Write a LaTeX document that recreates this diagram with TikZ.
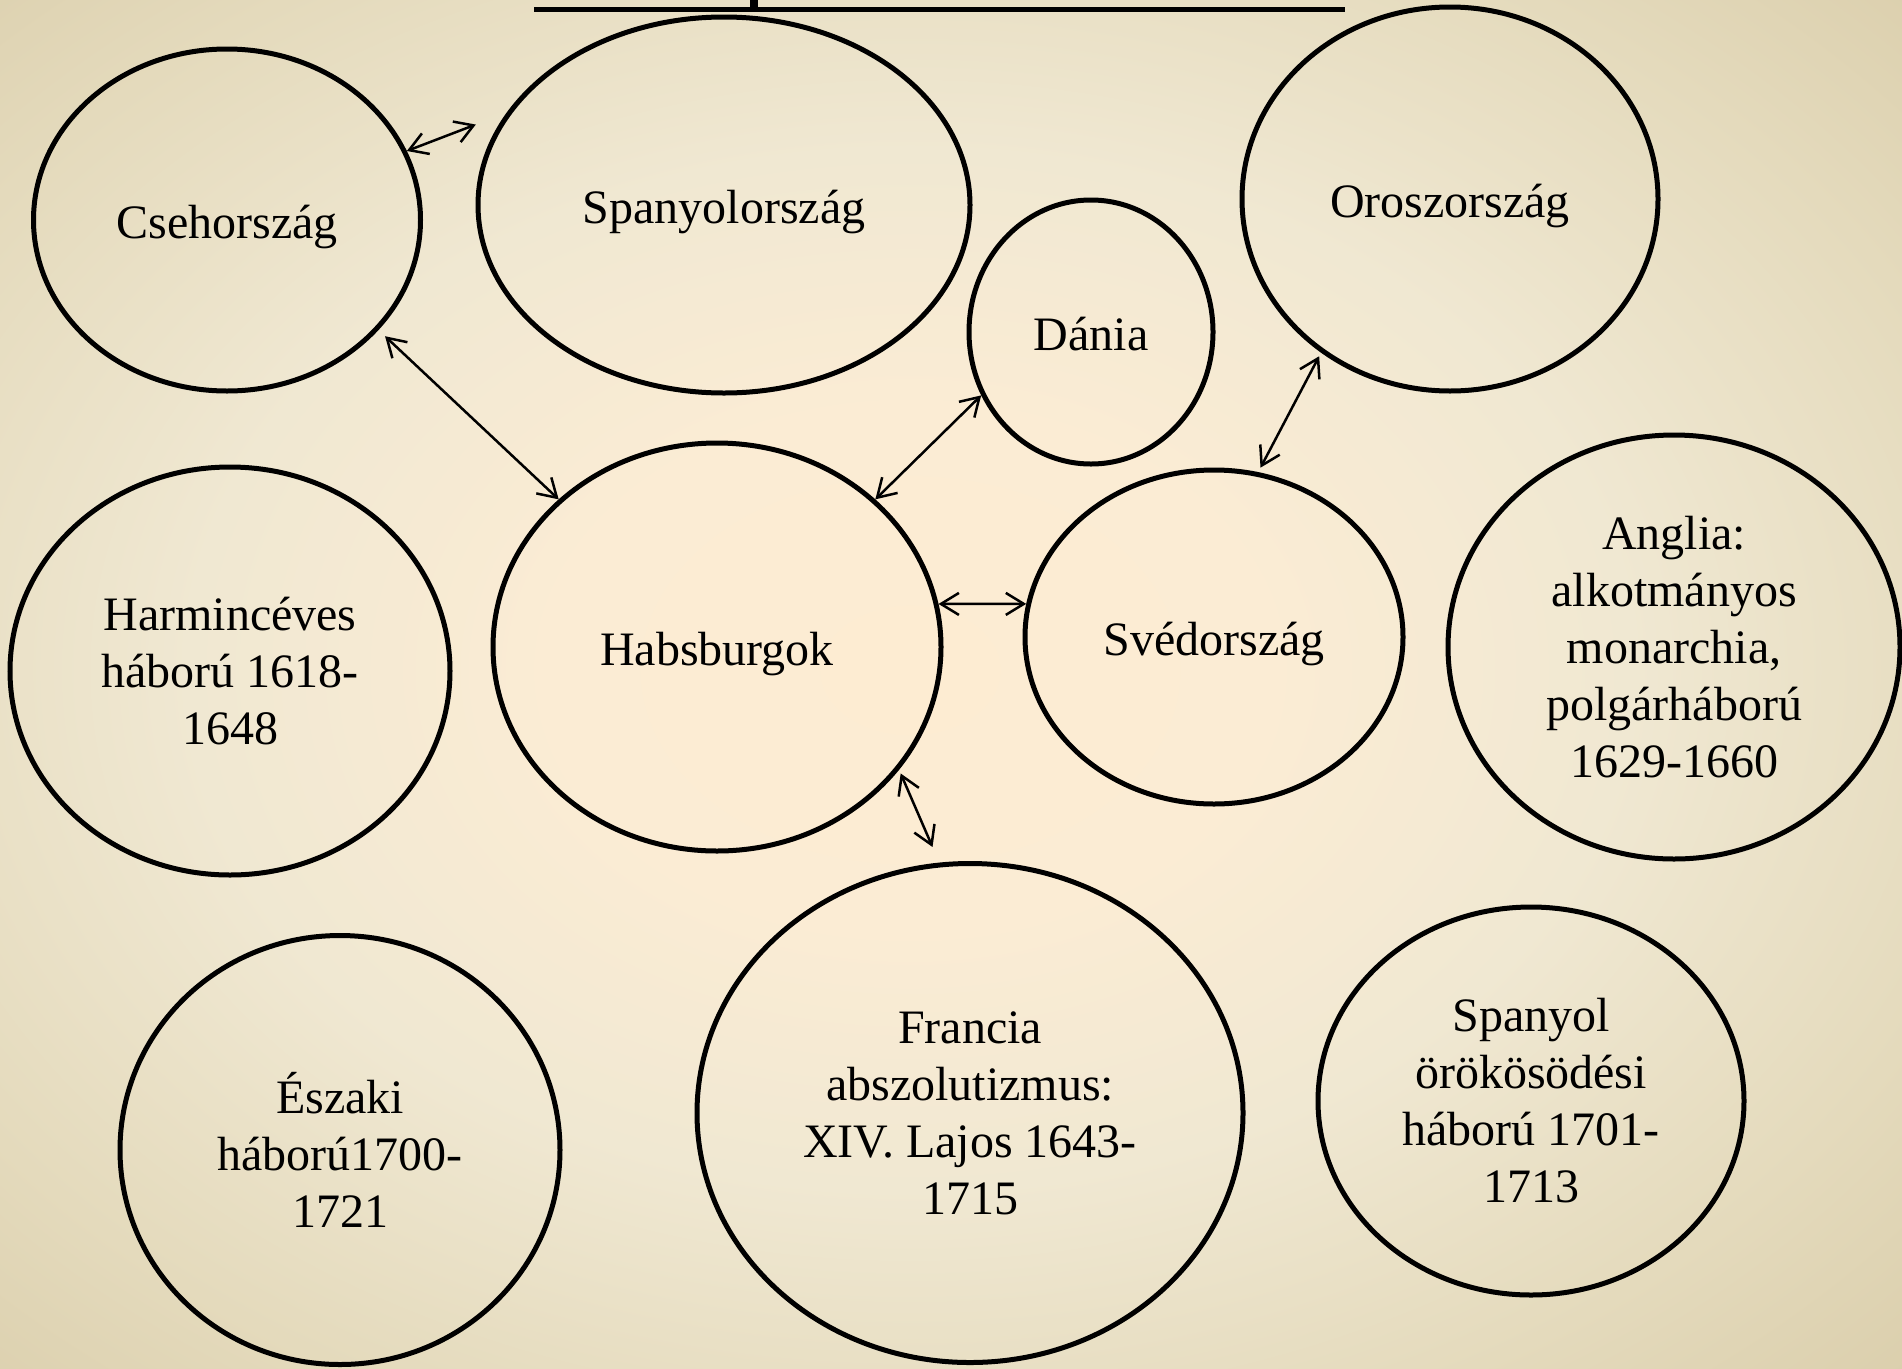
\documentclass[tikz,border=0pt]{standalone}
\usepackage{fontspec}
\setmainfont{Liberation Serif}
\usetikzlibrary{shapes.geometric,arrows.meta}
\definecolor{bgA}{RGB}{253,236,210}
\definecolor{bgB}{RGB}{251,236,212}
\definecolor{bgC}{RGB}{240,232,210}
\definecolor{bgD}{RGB}{228,218,188}
\definecolor{bgE}{RGB}{215,202,166}
\definecolor{bgF}{RGB}{207,192,154}
\pgfdeclareradialshading{bgshade}{\pgfpoint{0bp}{0bp}}{color(0bp)=(bgA); color(9bp)=(bgB); color(18bp)=(bgC); color(28bp)=(bgD); color(38bp)=(bgE); color(50bp)=(bgF); color(90bp)=(bgF)}
\tikzset{
  ell/.style={ellipse, draw=black, line width=5pt, inner sep=0pt, align=center,
    font=\fontsize{48}{57}\selectfont, text=black},
  one/.style={text height=36pt, text depth=0pt},
  arr/.style={line width=2.5pt,
    {Straight Barb[length=18pt,width=22pt]}-{Straight Barb[length=18pt,width=22pt]}}
}
\begin{document}
\begin{tikzpicture}[x=1pt,y=-1pt]
\useasboundingbox (0,0) rectangle (1902,1368);
\begin{scope}
\clip (0,0) rectangle (1902,1368);
\shade[shading=bgshade] (-90,-50) rectangle (1910,1390);
\end{scope}
% title underline remnant
\fill[black] (534,7) rectangle (1345,12);
\fill[black] (750,0) rectangle (758,10);
% nodes
\node[ell, one, minimum width=387pt, minimum height=342pt] (cseh) at (227,220) {Csehország};
\node[ell, one, minimum width=492pt, minimum height=376pt] (spany) at (724,205) {Spanyolország};
\node[ell, one, minimum width=244pt, minimum height=264pt] (dania) at (1091,332) {Dánia};
\node[ell, one, minimum width=416pt, minimum height=384pt] (orosz) at (1450,199) {Oroszország};
\node[ell, one, minimum width=448pt, minimum height=408pt] (habs) at (717,647) {Habsburgok};
\node[ell, one, minimum width=378pt, minimum height=334pt] (sved) at (1214,637) {Svédország};
\node[ell, minimum width=440pt, minimum height=408pt] (harm) at (230,671) {Harmincéves\\háború 1618-\\1648};
\node[ell, minimum width=452pt, minimum height=424pt] (angl) at (1674,647) {Anglia:\\alkotmányos\\monarchia,\\polgárháború\\1629-1660};
\node[ell, minimum width=440pt, minimum height=429pt] (eszak) at (340,1150) {Északi\\háború1700-\\1721};
\node[ell, minimum width=546pt, minimum height=499pt] (franc) at (970,1113) {Francia\\abszolutizmus:\\XIV. Lajos 1643-\\1715};
\node[ell, minimum width=426pt, minimum height=388pt] (spor) at (1531,1101) {Spanyol\\örökösödési\\háború 1701-\\1713};
% connectors
\draw[arr, shorten >=33pt] (cseh.21) -- (spany.157);
\draw[arr, shorten <=9pt] (cseh.-36) -- (habs.137);
\draw[arr] (habs.43) -- (dania.-150);
\draw[arr] (habs.11) -- (sved.170);
\draw[arr, shorten <=5pt, shorten >=4pt] (sved.75) -- (orosz.-130);
\draw[arr, shorten <=4pt, shorten >=17pt] (habs.-34) -- (franc.97);
\end{tikzpicture}
\end{document}
